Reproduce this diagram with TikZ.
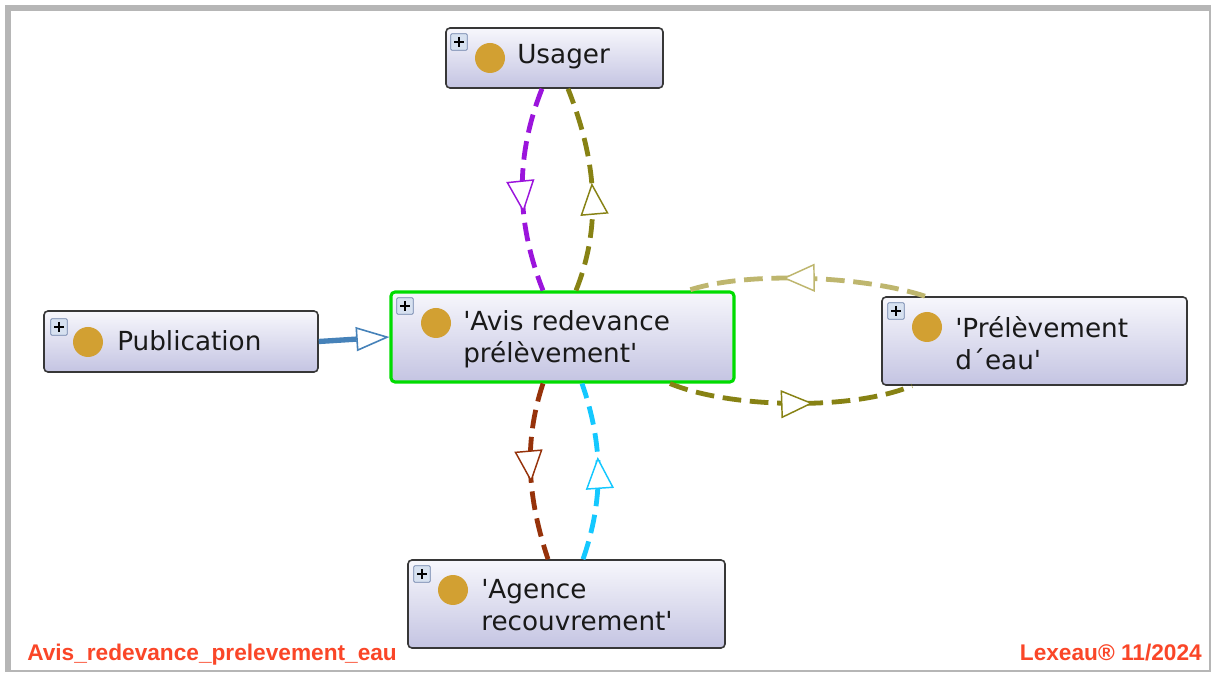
\documentclass[tikz,border=0pt]{standalone}
\usepackage{fontspec}
\newfontfamily\labelfont{DejaVu Sans}
\newfontfamily\footfont{Liberation Sans}
\usetikzlibrary{arrows.meta,decorations.markings,calc}
\definecolor{framegray}{RGB}{182,182,182}
\definecolor{boxtop}{RGB}{247,247,252}
\definecolor{boxbot}{RGB}{196,196,226}
\definecolor{boxline}{RGB}{55,55,55}
\definecolor{selgreen}{RGB}{0,220,0}
\definecolor{gold}{RGB}{210,160,50}
\definecolor{plusfill}{RGB}{215,225,240}
\definecolor{plusline}{RGB}{110,130,170}
\definecolor{cpurple}{RGB}{155,20,220}
\definecolor{colive}{RGB}{135,130,20}
\definecolor{ckhaki}{RGB}{190,182,110}
\definecolor{cbrown}{RGB}{150,50,10}
\definecolor{ccyan}{RGB}{20,200,255}
\definecolor{cblue}{RGB}{70,130,185}
\definecolor{footred}{RGB}{250,70,40}
\tikzset{
  entity/.style={draw=boxline, line width=1.2pt, rounded corners=3pt, top color=boxtop, bottom color=boxbot, inner sep=0pt},
  selbox/.style={entity, draw=selgreen, line width=2.3pt},
  dotmark/.style={circle, fill=gold, minimum size=22.5pt, inner sep=0pt},
  plusicon/.style={rectangle, draw=plusline, fill=plusfill, line width=0.6pt, minimum size=12.5pt, inner sep=0pt, rounded corners=1pt,
    path picture={\draw[black, line width=1pt] ($(path picture bounding box.center)+(-5,0)$) -- ($(path picture bounding box.center)+(5,0)$)
       ($(path picture bounding box.center)+(0,-5)$) -- ($(path picture bounding box.center)+(0,5)$);}},
  ntext/.style={font={\labelfont\fontsize{19.7pt}{24pt}\selectfont}, text={black!90}, inner sep=0pt, align=left, anchor=west},
  footer/.style={font={\footfont\bfseries\fontsize{17pt}{20pt}\selectfont}, text=footred, inner sep=0pt},
  relline/.style={line width=3.6pt, dash pattern=on 14pt off 6.5pt},
  midtip/.style={postaction={decorate, decoration={markings, mark=at position #1 with {\arrow{Triangle[length=24pt,width=21pt,fill=white,line width=1.1pt]}}}}}
}
\begin{document}
\begin{tikzpicture}[x=0.75pt,y=-0.75pt]
\useasboundingbox (0,0) rectangle (1211,673);
\fill[white] (0,0) rectangle (1211,673);
\fill[framegray] (5,5) rectangle (1211,672);
\fill[white] (11,11) rectangle (1209,670);

% boxes
\node[entity, minimum width=217*0.75pt, minimum height=60*0.75pt] (usager) at (554.5,58) {};
\node[entity, minimum width=274*0.75pt, minimum height=61*0.75pt] (pub) at (181,341.5) {};
\node[selbox, minimum width=343*0.75pt, minimum height=90*0.75pt] (avis) at (562.5,337) {};
\node[entity, minimum width=305*0.75pt, minimum height=88*0.75pt] (prel) at (1034.5,341) {};
\node[entity, minimum width=317*0.75pt, minimum height=88*0.75pt] (agence) at (566.5,604) {};

% icons
\node[plusicon] (usagerP) at (459,42) {};
\node[plusicon] (pubP) at (59,327) {};
\node[plusicon] (avisP) at (405,306) {};
\node[plusicon] (prelP) at (896,311) {};
\node[plusicon] (agenceP) at (422,574) {};
\node[dotmark] (usagerD) at (490,58) {};
\node[dotmark] (pubD) at (88,342) {};
\node[dotmark] (avisD) at (436,323) {};
\node[dotmark] (prelD) at (927,327) {};
\node[dotmark] (agenceD) at (453,590) {};

% texts
\node[ntext] (usagerT) at (517,57) {Usager};
\node[ntext] (pubT) at (117,341) {Publication};
\node[ntext] (avisT) at (463,339) {\textquotesingle Avis redevance\\prélèvement\textquotesingle};
\node[ntext] (prelT) at (955,343) {\textquotesingle Prélèvement\\d´eau\textquotesingle};
\node[ntext] (agenceT) at (481,605.5) {\textquotesingle Agence\\recouvrement\textquotesingle};

% connectors
\draw[relline, cpurple, midtip=0.61] ($(usager.south)+(-12.5,0)$) .. controls +(-27,68) and +(-27,-68) .. ($(avis.north)+(-19.5,0)$);
\draw[relline, colive, midtip=0.53] ($(avis.north)+(13.5,0)$) .. controls +(27,-68) and +(27,68) .. ($(usager.south)+(13.5,0)$);
\draw[relline, cbrown, midtip=0.56] ($(avis.south)+(-19.5,0)$) .. controls +(-20,60) and +(-20,-60) .. ($(agence.north)+(-18.5,0)$);
\draw[relline, ccyan, midtip=0.58] ($(agence.north)+(16.5,0)$) .. controls +(21,-60) and +(21,60) .. ($(avis.south)+(19.5,0)$);
\draw[relline, ckhaki, midtip=0.6] ($(prel.north)+(-109.5,0)$) .. controls +(-60,-20) and +(60,-20) .. ($(avis.north)+(125.5,0)$);
\draw[relline, colive, midtip=0.59] ($(avis.south)+(107.5,0)$) .. controls +(60,25) and +(-60,25) .. ($(prel.south)+(-122.5,0)$);
\draw[line width=4pt, cblue, -{Triangle[length=25pt,width=18pt,fill=white,line width=1.2pt]}] (pub.east) -- (avis.west);

% footer
\node[footer, anchor=base west] (footL) at (27,660) {Avis\_redevance\_prelevement\_eau};
\node[footer, anchor=base east] (footR) at (1202,660) {Lexeau® 11/2024};
\end{tikzpicture}
\end{document}
